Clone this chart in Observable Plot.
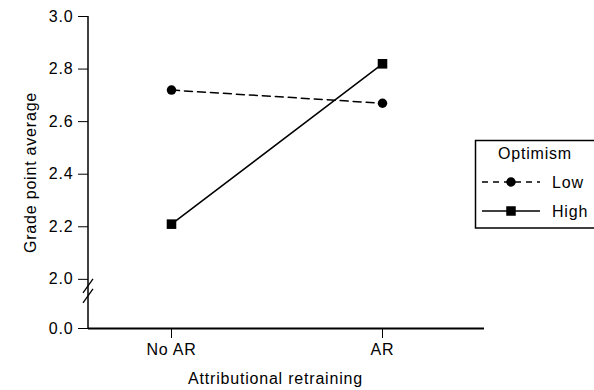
<!DOCTYPE html>
<html>
<head>
<meta charset="utf-8">
<script src="https://cdn.jsdelivr.net/npm/d3@7"></script>
<script src="https://cdn.jsdelivr.net/npm/@observablehq/plot@0.6"></script>
<style>
  html, body { margin: 0; padding: 0; background: white; }
</style>
</head>
<body>
<div id="chart"></div>
<script>
// ---- Data ----
const conditions = ["No AR", "AR"];
const seriesNames = ["Low", "High"];
const lowValues = [2.72, 2.67];
const highValues = [2.21, 2.82];
const yTickValues = [0.0, 2.0, 2.2, 2.4, 2.6, 2.8, 3.0];
const xLabel = "Attributional retraining";
const yLabel = "Grade point average";
const legendTitle = "Optimism";

// Broken axis: values below 2.0 are drawn at this position (0.0 sits just below the break)
const breakPos = 1.813;
const mapY = v => (v < 2 ? breakPos : v);

const lowRows = conditions.map((c, i) => ({condition: c, gpa: lowValues[i], group: seriesNames[0]}));
const highRows = conditions.map((c, i) => ({condition: c, gpa: highValues[i], group: seriesNames[1]}));

const FONT = "'Liberation Sans', Arial, Helvetica, sans-serif";

function decorations(index, scales, values, dimensions) {
  const {marginLeft} = dimensions;
  const g = d3.create("svg:g");
  const y = scales.y;
  const x0 = marginLeft;
  // y axis line
  g.append("line")
    .attr("x1", x0).attr("x2", x0)
    .attr("y1", y(3.0)).attr("y2", y(breakPos) + 1)
    .attr("stroke", "black").attr("stroke-width", 1.5);
  // break marks
  const yb = y(2.0);
  for (const off of [0, 10]) {
    g.append("line")
      .attr("x1", x0 - 5).attr("y1", yb + 14 + off)
      .attr("x2", x0 + 5).attr("y2", yb + off)
      .attr("stroke", "black").attr("stroke-width", 1.3);
  }
  // legend
  const lg = g.append("g").attr("font-family", FONT).attr("font-size", 16).attr("text-anchor", "start");
  lg.append("rect")
    .attr("x", 475.5).attr("y", 140.5).attr("width", 130).attr("height", 87.5)
    .attr("fill", "white").attr("stroke", "black").attr("stroke-width", 1.5);
  lg.append("text").attr("x", 535).attr("y", 159).attr("text-anchor", "middle").text(legendTitle);
  const rowsY = [182, 211];
  seriesNames.forEach((name, i) => {
    const yy = rowsY[i];
    lg.append("line").attr("x1", 482).attr("x2", 540).attr("y1", yy).attr("y2", yy)
      .attr("stroke", "black").attr("stroke-width", 1.5)
      .attr("stroke-dasharray", i === 0 ? "6,5" : null);
    if (i === 0) {
      lg.append("circle").attr("cx", 511).attr("cy", yy).attr("r", 4.75).attr("fill", "black");
    } else {
      lg.append("rect").attr("x", 511 - 4.75).attr("y", yy - 4.75).attr("width", 9.5).attr("height", 9.5).attr("fill", "black");
    }
    lg.append("text").attr("x", 552).attr("y", yy + 6).attr("text-anchor", "start").text(name);
  });
  return g.node();
}

const chart = Plot.plot({
  width: 594,
  height: 390,
  marginLeft: 88,
  marginRight: 110,
  marginTop: 16,
  marginBottom: 62,
  style: {fontFamily: FONT, fontSize: "16px", letterSpacing: "0.8px", color: "black", background: "white", overflow: "visible"},
  x: {type: "point", domain: conditions, range: [171, 382], padding: 0, axis: null},
  y: {domain: [breakPos, 3.0], axis: null},
  marks: [
    Plot.axisX({tickSize: 10, tickPadding: 5, fontSize: 16, label: null, stroke: "black", strokeWidth: 1}),
    Plot.axisY(yTickValues.map(mapY), {
      tickSize: 10, tickPadding: 5, fontSize: 16, label: null, strokeWidth: 1,
      tickFormat: d => (d < 2 ? "0.0" : d.toFixed(1))
    }),
    Plot.ruleY([breakPos], {stroke: "black", strokeWidth: 2}),
    Plot.line(lowRows, {x: "condition", y: "gpa", stroke: "black", strokeWidth: 1.5, strokeDasharray: "8,5"}),
    Plot.line(highRows, {x: "condition", y: "gpa", stroke: "black", strokeWidth: 1.5}),
    Plot.dot(lowRows, {x: "condition", y: "gpa", r: 4.75, fill: "black", symbol: "circle"}),
    Plot.dot(highRows, {x: "condition", y: "gpa", r: 5.4, fill: "black", symbol: "square"}),
    Plot.text([yLabel], {frameAnchor: "left", dx: -58, rotate: -90, text: d => d, textAnchor: "middle", lineAnchor: "middle", fontSize: 16}),
    Plot.text([xLabel], {frameAnchor: "bottom", dx: -11, dy: 50, text: d => d, textAnchor: "middle", lineAnchor: "middle", fontSize: 16}),
    decorations
  ]
});
document.getElementById("chart").appendChild(chart);
</script>
</body>
</html>
